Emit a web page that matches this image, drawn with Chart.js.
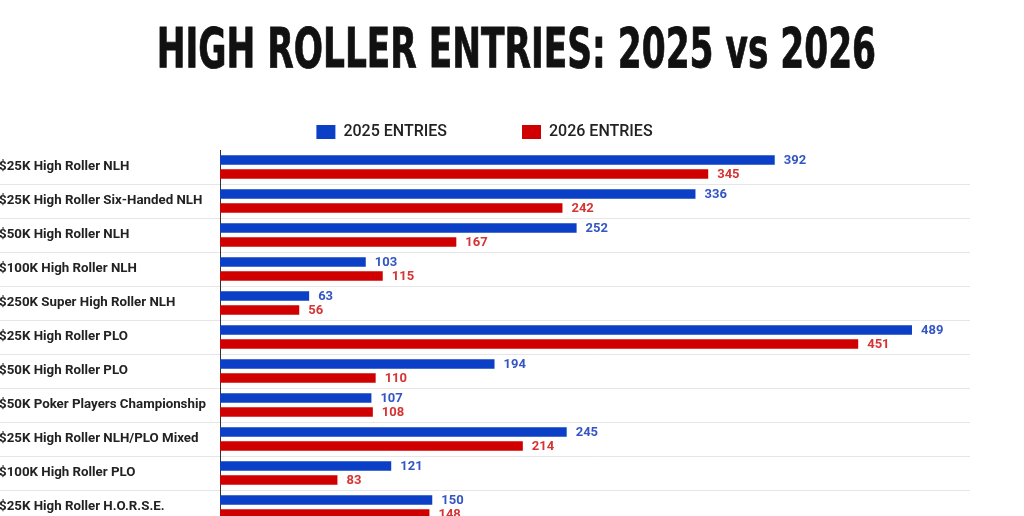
<!DOCTYPE html>
<html>
<head>
<meta charset="utf-8">
<title>High Roller Entries</title>
<script src="https://cdn.jsdelivr.net/npm/chart.js@4.4.1/dist/chart.umd.min.js"></script>
<style>
  html, body { margin: 0; padding: 0; background: #fff; }
  body { width: 1024px; height: 516px; overflow: hidden; position: relative; }
  #title {
    position: absolute; top: 21px; left: 0; width: 1024px;
    text-align: center; line-height: 55px; white-space: nowrap;
    font-family: "Liberation Sans Narrow", "DejaVu Sans Condensed", sans-serif;
    font-weight: bold; font-size: 55px; color: #111;
    -webkit-text-stroke: 0.8px #111;
    transform: scaleX(0.695); transform-origin: 514px 0;
    z-index: 2;
  }
  #wrap { position: absolute; top: 49px; left: -6px; width: 1030px; height: 486px; }
</style>
</head>
<body>
<div id="title">HIGH ROLLER ENTRIES: 2025 vs 2026</div>
<div id="wrap"><canvas id="chart"></canvas></div>
<script>
/*----- data -----*/
const categories = [
  "$25K High Roller NLH",
  "$25K High Roller Six-Handed NLH",
  "$50K High Roller NLH",
  "$100K High Roller NLH",
  "$250K Super High Roller NLH",
  "$25K High Roller PLO",
  "$50K High Roller PLO",
  "$50K Poker Players Championship",
  "$25K High Roller NLH/PLO Mixed",
  "$100K High Roller PLO",
  "$25K High Roller H.O.R.S.E."
]
const entries2025 = [392, 336, 252, 103, 63, 489, 194, 107, 245, 121, 150]
const entries2026 = [345, 242, 167, 115, 56, 451, 110, 108, 214, 83, 148]
const seriesNames = ["2025 ENTRIES", "2026 ENTRIES"]

/*----- styles -----*/
const blue = "#0b3fc6"
const red = "#d10000"
const blueText = "#3456c4"
const redText = "#d63434"

// numbers at the end of each bar
const valueLabels = {
  id: "valueLabels",
  afterDatasetsDraw(chart) {
    const ctx = chart.ctx
    ctx.save()
    ctx.font = "bold 13px Roboto"
    ctx.textAlign = "left"
    ctx.textBaseline = "middle"
    chart.data.datasets.forEach((ds, i) => {
      ctx.fillStyle = i === 0 ? blueText : redText
      chart.getDatasetMeta(i).data.forEach((bar, j) => {
        ctx.fillText(ds.data[j], bar.x + 9, bar.y + 1)
      })
    })
    ctx.restore()
  }
}

new Chart(document.getElementById("chart"), {
  type: "bar",
  data: {
    labels: categories,
    datasets: [
      {
        label: seriesNames[0],
        data: entries2025,
        backgroundColor: blue,
        categoryPercentage: 0.83,
        barPercentage: 0.68
      },
      {
        label: seriesNames[1],
        data: entries2026,
        backgroundColor: red,
        categoryPercentage: 0.83,
        barPercentage: 0.68
      }
    ]
  },
  options: {
    indexAxis: "y",
    responsive: true,
    maintainAspectRatio: false,
    animation: false,
    layout: { padding: { left: 5, right: 54, top: 0, bottom: 0 } },
    plugins: {
      tooltip: { enabled: false },
      legend: {
        position: "top",
        align: "center",
        labels: {
          boxWidth: 19,
          boxHeight: 14,
          padding: 75,
          color: "#222",
          font: { family: "Roboto", size: 16, weight: "500" }
        }
      }
    },
    scales: {
      x: {
        display: false,
        min: 0,
        max: 530
      },
      y: {
        grid: {
          offset: true,
          drawOnChartArea: true,
          tickLength: 221,
          color: (c) => c.index === 0 ? "rgba(0,0,0,0)" : "#e6e6e6"
        },
        border: { display: true, color: "#333", width: 1 },
        ticks: {
          crossAlign: "far",
          color: "#222",
          font: { family: "Roboto", size: 13.3, weight: "bold" }
        },
        afterFit: (axis) => { axis.width = 221 }
      }
    }
  },
  plugins: [valueLabels]
})
</script>
</body>
</html>
